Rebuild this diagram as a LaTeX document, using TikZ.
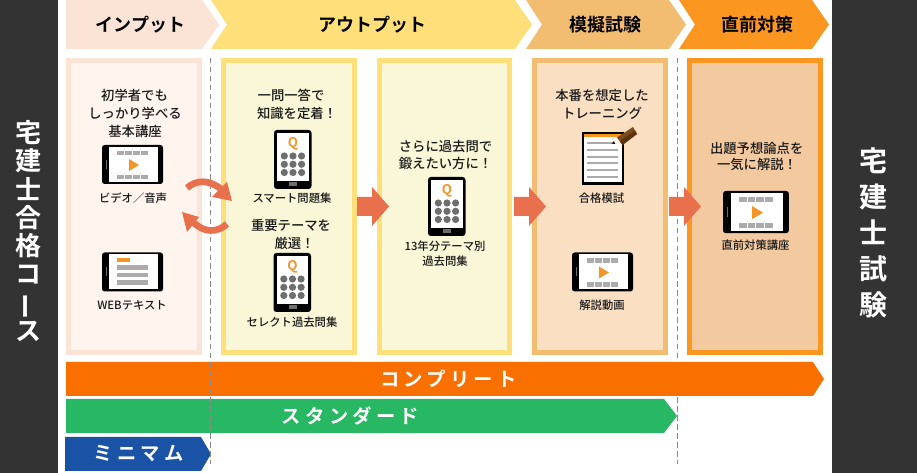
\documentclass[tikz,border=0pt]{standalone}
\usepackage{fontspec}
\setmainfont{Noto Sans CJK JP}
\newfontfamily\medf{Noto Sans CJK JP Medium}
\newfontfamily\boldf{Noto Sans CJK JP Bold}
\newfontfamily\barf[LetterSpace=22]{Noto Sans CJK JP Bold}
\definecolor{dark}{HTML}{333333}
\definecolor{hA}{HTML}{FBE3D6}\definecolor{hB}{HTML}{FFDF7A}\definecolor{hC}{HTML}{F3BD71}\definecolor{hD}{HTML}{FB9620}
\definecolor{iA}{HTML}{FFF5EE}\definecolor{iB}{HTML}{F9F7D7}\definecolor{iC}{HTML}{FBDFC3}\definecolor{iD}{HTML}{F3CAA0}
\definecolor{barO}{HTML}{F97000}\definecolor{barG}{HTML}{28B763}\definecolor{barB}{HTML}{1A53A5}
\definecolor{salmon}{HTML}{E8704D}\definecolor{filmgray}{HTML}{ABABAB}\definecolor{dotgray}{HTML}{6E6E6E}
\definecolor{ink}{HTML}{1A1A1A}\definecolor{dashc}{HTML}{8A8A8A}\definecolor{oran}{HTML}{F39426}
\definecolor{pencilA}{HTML}{7A4A1C}\definecolor{pencilB}{HTML}{5A3410}
\tikzset{
 px/.style={x=0.75pt,y=-0.75pt},
 txt/.style={inner sep=0pt,text=ink,anchor=center},
 big/.style={txt,font=\fontsize{10}{12}\medf},
 small/.style={txt,font=\fontsize{8.5}{10}\medf},
 head/.style={txt,text=black,font=\fontsize{13.5}{16}\boldf},
 barlab/.style={txt,text=white,font=\fontsize{14.5}{16}\barf},
}
% landscape tablet: body 61x39
\newcommand{\landbody}{%
 \fill[black,rounded corners=2pt] (0,0) rectangle (61,39);
 \fill[white] (7,2) rectangle (56,37);
 \fill[dotgray] (3.5,15) rectangle (4.8,24);
}
\newcommand{\filmicon}{%
 \foreach \a in {15,23,31,39}{%
  \fill[filmgray] (\a,6) rectangle ++(7,4.3);
  \fill[filmgray] (\a,30) rectangle ++(7,4.3);}
 \fill[oran] (27,14) -- (27,26) -- (37,20) -- cycle;
}
\newcommand{\porttab}[2]{%
 \begin{scope}[shift={(#1)}]
 \fill[black,rounded corners=2.2pt] (0,0) rectangle (37.5,59);
 \fill[white] (3,3) rectangle (34.7,51);
 \fill[dotgray] (15,52) rectangle (23,56);
 \node[txt,text=oran,font=\fontsize{10}{10}\boldf] (#2) at (19,14) {Q};
 \foreach \cx in {10.3,19,27.6}\foreach \cy in {26,34.3,42.5}\fill[dotgray] (\cx,\cy) circle (3.6);
 \end{scope}}
\newcommand{\panelarrow}[1]{%
 \fill[salmon] (#1,197) -- (#1+15,197) -- (#1+15,187) -- (#1+32,206.5) -- (#1+15,226) -- (#1+15,216) -- (#1,216) -- cycle;}
\begin{document}
\begin{tikzpicture}[px]
\useasboundingbox (0,0) rectangle (917,473);
\fill[white] (0,0) rectangle (917,473);
\fill[dark] (0,0) rectangle (58,473);
\fill[dark] (832,0) rectangle (917,473);
% header chevrons
\fill[hA] (66,0) -- (202,0) -- (219,24.5) -- (202,49) -- (66,49) -- cycle;
\fill[hB] (211,0) -- (515,0) -- (532,24.5) -- (515,49) -- (211,49) -- (227,24.5) -- cycle;
\fill[hC] (526,0) -- (669,0) -- (686,24.5) -- (669,49) -- (526,49) -- (542,24.5) -- cycle;
\fill[hD] (679,0) -- (812,0) -- (829,24.5) -- (812,49) -- (679,49) -- (695,24.5) -- cycle;
\node[head] (hInput) at (140.5,25) {インプット};
\node[head] (hOutput) at (372,25) {アウトプット};
\node[head] (hMock) at (605,25) {模擬試験};
\node[head] (hFinal) at (757,25) {直前対策};
% panels
\fill[iA] (68,60) rectangle (200,353); \draw[hA,line width=3.75pt] (68.5,60.5) rectangle (199.5,352.5);
\fill[iB] (223,60) rectangle (355,353); \draw[hB,line width=3.75pt] (223.5,60.5) rectangle (354.5,352.5);
\fill[iB] (379,60) rectangle (510,353); \draw[hB,line width=3.75pt] (379.5,60.5) rectangle (509.5,352.5);
\fill[iC] (534,60) rectangle (666,353); \draw[hC,line width=3.75pt] (534.5,60.5) rectangle (665.5,352.5);
\fill[iD] (689,60) rectangle (821,353); \draw[hD,line width=3.75pt] (689.5,60.5) rectangle (820.5,352.5);
% bars
\fill[barO] (66,362) -- (813,362) -- (824,379) -- (813,396) -- (66,396) -- cycle;
\fill[barG] (66,399) -- (664,399) -- (677,416) -- (664,433) -- (66,433) -- cycle;
\fill[barB] (65,437) -- (201,437) -- (211,454) -- (201,471) -- (65,471) -- cycle;
\node[barlab] (bComplete) at (448.5,379) {コンプリート};
\node[barlab] (bStandard) at (350.5,416) {スタンダード};
\node[barlab] (bMinimum) at (138.5,454) {ミニマム};
% dashed guides
\draw[dashc,line width=0.75pt,dash pattern=on 4.1pt off 2.6pt] (210.4,58) -- (210.4,464);
\draw[dashc,line width=0.75pt,dash pattern=on 4.1pt off 2.6pt] (677.6,58) -- (677.6,464);
% side labels
\node[inner sep=0pt,text=white,align=center,font=\fontsize{19.5}{21.2}\boldf] (sideL) at (29,231)
 {宅\\建\\士\\合\\格\\コ\\\rotatebox[origin=c]{90}{ー}\\ス};
\node[inner sep=0pt,text=white,align=center,font=\fontsize{21}{27}\boldf] (sideR) at (873.5,233)
 {宅\\建\\士\\試\\験};
% panel arrows
\panelarrow{357}\panelarrow{514}\panelarrow{669}
% cycle arrows
\draw[salmon,line width=5pt] (187,188) .. controls (196,180) and (208,179) .. (221,189);
\fill[salmon] (232,201) -- (227,182) -- (212,197) -- cycle;
\draw[salmon,line width=5pt] (227,224) .. controls (217,233) and (204,233) .. (193,222);
\fill[salmon] (182,212) -- (199,217) -- (187,232) -- cycle;
% landscape tablets
\begin{scope}[shift={(102,145)}]\landbody\filmicon\end{scope}
\begin{scope}[shift={(102,252.5)}]\landbody
 \fill[oran] (15,5.5) rectangle (27.5,9.7);
 \foreach \a in {12.8,20.3,27.8}\fill[filmgray] (15,\a) rectangle ++(31,4.6);
\end{scope}
\begin{scope}[shift={(572,252.5)}]\landbody\filmicon\end{scope}
\begin{scope}[shift={(723,191)},scale=1.08]\landbody\filmicon\end{scope}
% portrait tablets
\porttab{274,130}{qA}
\porttab{273.5,253}{qB}
\porttab{428,177}{qC}
% document and pencil
\fill[black] (582,132) rectangle (624,185);
\fill[white] (584,137) rectangle (621.5,182.5);
\fill[hD] (584,134) rectangle (621.5,137);
\foreach \a in {142,149,156,162.5,169,176}\fill[filmgray] (587,\a) rectangle (618,\a+1.8);
\fill[white!90!hC] (612,143) -- (617,137) -- (623,145) -- cycle;
\fill[black] (611.5,143.5) -- (614,141) -- (615,144) -- cycle;
\fill[pencilA] (617,137.5) -- (633,127) -- (637,134) -- (622.5,145) -- cycle;
\fill[pencilB] (619.8,141.2) -- (635,130.5) -- (637,134) -- (622.5,145) -- cycle;
% panel texts
\node[big] (t1a) at (134.5,95) {初学者でも};
\node[big] (t1b) at (135,113) {しっかり学べる};
\node[big] (t1c) at (135,131) {基本講座};
\node[small] (t1d) at (133,198) {ビデオ／音声};
\node[small] (t1e) at (132,305) {WEBテキスト};
\node[big] (t2a) at (291,95) {一問一答で};
\node[big] (t2b) at (297,113) {知識を定着！};
\node[small] (t2c) at (292,198) {スマート問題集};
\node[big] (t2d) at (291,225) {重要テーマを};
\node[big] (t2e) at (294.5,243) {厳選！};
\node[small] (t2f) at (292,322) {セレクト過去問集};
\node[big] (t3a) at (445.5,146) {さらに過去問で};
\node[big] (t3b) at (445.5,163.5) {鍛えたい方に！};
\node[small] (t3c) at (445,246) {13年分テーマ別};
\node[small] (t3d) at (445,261) {過去問集};
\node[big] (t4a) at (602,95) {本番を想定した};
\node[big] (t4b) at (602,113) {トレーニング};
\node[small] (t4c) at (601.5,198) {合格模試};
\node[small] (t4d) at (602,305) {解説動画};
\node[big] (t5a) at (756.7,148) {出題予想論点を};
\node[big] (t5b) at (757,164) {一気に解説！};
\node[small] (t5c) at (755.5,245) {直前対策講座};
\end{tikzpicture}
\end{document}
